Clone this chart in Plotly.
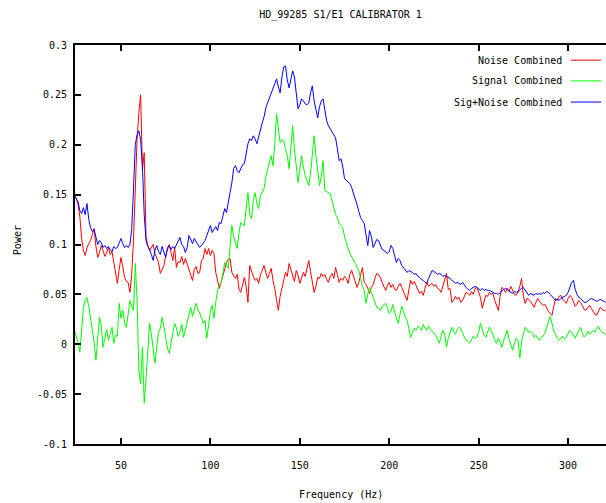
import plotly.graph_objects as go

# Frequency axis (Hz), 1 Hz steps
freq = list(range(24, 322))

noise = [
    0.150, 0.146, 0.140, 0.128, 0.106, 0.094, 0.089, 0.097, 0.101, 0.104,
    0.110, 0.116, 0.098, 0.087, 0.092, 0.099, 0.094, 0.088, 0.092, 0.097,
    0.090, 0.093, 0.082, 0.072, 0.061, 0.075, 0.087, 0.078, 0.067, 0.063,
    0.062, 0.052, 0.070, 0.104, 0.164, 0.205, 0.232, 0.250, 0.175, 0.192,
    0.108, 0.099, 0.094, 0.097, 0.100, 0.091, 0.087, 0.082, 0.071, 0.076,
    0.079, 0.089, 0.094, 0.100, 0.092, 0.084, 0.097, 0.077, 0.083, 0.082,
    0.088, 0.080, 0.086, 0.081, 0.074, 0.070, 0.064, 0.075, 0.078, 0.071,
    0.072, 0.084, 0.086, 0.096, 0.090, 0.096, 0.089, 0.094, 0.091, 0.072,
    0.064, 0.056, 0.062, 0.069, 0.077, 0.082, 0.085, 0.086, 0.072, 0.069,
    0.066, 0.070, 0.055, 0.052, 0.061, 0.067, 0.058, 0.042, 0.079, 0.073,
    0.068, 0.064, 0.066, 0.061, 0.070, 0.074, 0.079, 0.072, 0.066, 0.071,
    0.076, 0.064, 0.056, 0.044, 0.034, 0.048, 0.056, 0.065, 0.072, 0.068,
    0.081, 0.075, 0.068, 0.063, 0.074, 0.069, 0.061, 0.066, 0.072, 0.068,
    0.078, 0.084, 0.073, 0.061, 0.052, 0.058, 0.067, 0.066, 0.071, 0.068,
    0.070, 0.065, 0.062, 0.068, 0.071, 0.066, 0.077, 0.070, 0.062, 0.066,
    0.064, 0.068, 0.066, 0.061, 0.070, 0.074, 0.068, 0.063, 0.057, 0.062,
    0.071, 0.077, 0.062, 0.060, 0.056, 0.051, 0.057, 0.060, 0.066, 0.071,
    0.070, 0.067, 0.062, 0.058, 0.054, 0.059, 0.062, 0.057, 0.060, 0.055,
    0.054, 0.058, 0.061, 0.057, 0.052, 0.048, 0.044, 0.055, 0.064, 0.060,
    0.063, 0.059, 0.054, 0.051, 0.053, 0.049, 0.056, 0.062, 0.058, 0.060,
    0.061, 0.058, 0.060, 0.056, 0.055, 0.052, 0.059, 0.066, 0.071, 0.055,
    0.056, 0.042, 0.044, 0.048, 0.045, 0.047, 0.042, 0.044, 0.049, 0.052,
    0.051, 0.049, 0.053, 0.050, 0.056, 0.057, 0.052, 0.047, 0.036, 0.042,
    0.049, 0.048, 0.052, 0.050, 0.051, 0.044, 0.039, 0.034, 0.048, 0.057,
    0.055, 0.052, 0.056, 0.053, 0.058, 0.054, 0.050, 0.049, 0.052, 0.058,
    0.066, 0.048, 0.041, 0.046, 0.045, 0.043, 0.040, 0.037, 0.042, 0.046,
    0.043, 0.041, 0.039, 0.040, 0.036, 0.033, 0.031, 0.029, 0.038, 0.046,
    0.044, 0.048, 0.049, 0.045, 0.043, 0.041, 0.046, 0.049, 0.047, 0.042,
    0.038, 0.040, 0.044, 0.042, 0.038, 0.035, 0.034, 0.037, 0.039, 0.036,
    0.033, 0.030, 0.029, 0.034, 0.037, 0.035, 0.034, 0.034,
]

signal = [
    0.014, 0.008, 0.002, -0.008, 0.012, 0.036, 0.045, 0.047, 0.038, 0.026,
    0.015, 0.002, -0.016, 0.010, 0.027, 0.018, -0.003, 0.006, 0.015, 0.004,
    0.012, 0.017, 0.001, 0.009, 0.008, 0.041, 0.026, 0.034, 0.022, 0.017,
    0.030, 0.044, 0.038, 0.034, 0.081, 0.045, -0.026, -0.040, -0.003, -0.059,
    -0.034, -0.010, 0.021, 0.010, -0.008, -0.019, -0.002, 0.012, 0.016, 0.027,
    0.018, 0.006, -0.004, -0.009, 0.002, 0.014, 0.021, 0.016, 0.008, 0.012,
    0.020, 0.007, 0.015, 0.022, 0.030, 0.037, 0.028, 0.034, 0.041, 0.035,
    0.031, 0.027, 0.021, 0.024, 0.006, 0.018, 0.033, 0.039, 0.026, 0.042,
    0.054, 0.059, 0.062, 0.071, 0.082, 0.079, 0.076, 0.098, 0.119, 0.108,
    0.102, 0.096, 0.112, 0.122, 0.120, 0.119, 0.136, 0.152, 0.130, 0.126,
    0.144, 0.152, 0.141, 0.136, 0.149, 0.152, 0.156, 0.168, 0.176, 0.184,
    0.189, 0.179, 0.200, 0.231, 0.215, 0.202, 0.205, 0.204, 0.196, 0.189,
    0.176, 0.198, 0.219, 0.196, 0.179, 0.162, 0.175, 0.189, 0.178, 0.169,
    0.164, 0.159, 0.171, 0.192, 0.209, 0.189, 0.170, 0.159, 0.168, 0.184,
    0.154, 0.153, 0.152, 0.151, 0.144, 0.137, 0.130, 0.127, 0.121, 0.119,
    0.117, 0.108, 0.101, 0.096, 0.091, 0.088, 0.084, 0.081, 0.077, 0.074,
    0.066, 0.058, 0.054, 0.041, 0.050, 0.057, 0.052, 0.047, 0.041, 0.037,
    0.036, 0.034, 0.038, 0.040, 0.041, 0.036, 0.031, 0.033, 0.040, 0.032,
    0.027, 0.021, 0.030, 0.038, 0.033, 0.027, 0.024, 0.015, 0.007, 0.012,
    0.016, 0.014, 0.018, 0.017, 0.014, 0.020, 0.016, 0.014, 0.018, 0.015,
    0.013, 0.011, 0.009, 0.005, 0.001, 0.008, 0.014, 0.010, -0.003, 0.006,
    0.012, 0.017, 0.013, 0.010, 0.015, 0.017, 0.016, 0.011, 0.007, 0.004,
    0.003, 0.001, 0.004, 0.008, 0.006, 0.007, 0.012, 0.021, 0.015, 0.009,
    0.007, 0.012, 0.017, 0.014, 0.008, 0.004, 0.001, 0.006, 0.002, -0.003,
    0.004, 0.010, 0.014, 0.005, -0.002, -0.006, 0.001, 0.006, 0.004, -0.014,
    0.003, 0.010, 0.017, 0.015, 0.012, 0.013, 0.011, 0.007, 0.009, 0.006,
    0.004, 0.007, 0.008, 0.011, 0.016, 0.022, 0.028, 0.021, 0.013, 0.010,
    0.006, 0.004, 0.006, 0.008, 0.005, 0.007, 0.011, 0.014, 0.012, 0.009,
    0.006, 0.010, 0.014, 0.017, 0.011, 0.007, 0.009, 0.013, 0.010, 0.012,
    0.014, 0.012, 0.016, 0.018, 0.014, 0.012, 0.011, 0.010,
]

sig_noise = [
    0.149, 0.146, 0.143, 0.134, 0.131, 0.137, 0.130, 0.141, 0.125, 0.117,
    0.113, 0.115, 0.108, 0.100, 0.104, 0.102, 0.097, 0.099, 0.096, 0.098,
    0.095, 0.093, 0.098, 0.096, 0.097, 0.101, 0.106, 0.101, 0.097, 0.099,
    0.097, 0.100, 0.115, 0.155, 0.200, 0.210, 0.214, 0.205, 0.178, 0.130,
    0.104, 0.098, 0.095, 0.090, 0.084, 0.094, 0.099, 0.093, 0.090, 0.098,
    0.092, 0.087, 0.097, 0.099, 0.095, 0.098, 0.096, 0.100, 0.104, 0.107,
    0.100, 0.098, 0.092, 0.097, 0.109, 0.104, 0.101, 0.106, 0.103, 0.099,
    0.097, 0.099, 0.101, 0.104, 0.109, 0.114, 0.119, 0.112, 0.115, 0.118,
    0.114, 0.122, 0.121, 0.128, 0.136, 0.132, 0.144, 0.152, 0.162, 0.176,
    0.179, 0.174, 0.172, 0.176, 0.180, 0.181, 0.192, 0.201, 0.206, 0.204,
    0.209, 0.206, 0.201, 0.209, 0.214, 0.222, 0.228, 0.237, 0.242, 0.247,
    0.252, 0.256, 0.262, 0.266, 0.258, 0.252, 0.268, 0.278, 0.279, 0.265,
    0.257, 0.266, 0.274, 0.268, 0.250, 0.236, 0.240, 0.246, 0.244, 0.241,
    0.240, 0.242, 0.252, 0.259, 0.244, 0.236, 0.227, 0.238, 0.244, 0.246,
    0.236, 0.224, 0.219, 0.216, 0.214, 0.210, 0.207, 0.196, 0.184, 0.186,
    0.178, 0.166, 0.164, 0.163, 0.161, 0.157, 0.152, 0.147, 0.140, 0.133,
    0.127, 0.124, 0.121, 0.110, 0.099, 0.114, 0.108, 0.097, 0.102, 0.105,
    0.104, 0.099, 0.095, 0.094, 0.092, 0.091, 0.093, 0.099, 0.096, 0.088,
    0.082, 0.086, 0.084, 0.079, 0.077, 0.074, 0.072, 0.074, 0.073, 0.072,
    0.070, 0.071, 0.068, 0.067, 0.065, 0.064, 0.062, 0.061, 0.066, 0.071,
    0.074, 0.073, 0.071, 0.070, 0.071, 0.070, 0.068, 0.069, 0.068, 0.067,
    0.066, 0.064, 0.063, 0.061, 0.062, 0.061, 0.060, 0.062, 0.059, 0.057,
    0.055, 0.054, 0.056, 0.057, 0.058, 0.057, 0.055, 0.054, 0.056, 0.054,
    0.055, 0.054, 0.054, 0.053, 0.052, 0.051, 0.051, 0.050, 0.052, 0.054,
    0.055, 0.056, 0.055, 0.053, 0.052, 0.051, 0.053, 0.052, 0.053, 0.055,
    0.056, 0.057, 0.054, 0.051, 0.049, 0.051, 0.050, 0.049, 0.051, 0.050,
    0.051, 0.050, 0.052, 0.051, 0.053, 0.052, 0.050, 0.048, 0.045, 0.044,
    0.045, 0.044, 0.046, 0.047, 0.048, 0.049, 0.052, 0.057, 0.062, 0.064,
    0.055, 0.050, 0.047, 0.046, 0.044, 0.042, 0.042, 0.043, 0.045, 0.046,
    0.045, 0.044, 0.043, 0.044, 0.045, 0.044, 0.043, 0.042,
]

series_names = ["Noise Combined", "Signal Combined", "Sig+Noise Combined"]
series_colors = ["#ff0000", "#00ff00", "#0000ff"]

x_ticks = [50, 100, 150, 200, 250, 300]
y_ticks = [-0.1, -0.05, 0, 0.05, 0.1, 0.15, 0.2, 0.25, 0.3]
y_tick_labels = ["-0.1", "-0.05", "0", "0.05", "0.1", "0.15", "0.2", "0.25", "0.3"]

FONT = "DejaVu Sans Mono"

fig = go.Figure()
for name, vals, col in zip(series_names, [noise, signal, sig_noise], series_colors):
    fig.add_trace(go.Scatter(x=freq, y=vals, mode="lines", name=name,
                             line=dict(color=col, width=1), showlegend=False))

# gnuplot-style legend: right-aligned text with sample line to the right
leg_y = [0.962, 0.910, 0.857]
for name, col, yy in zip(series_names, series_colors, leg_y):
    fig.add_annotation(xref="paper", yref="paper", x=0.921, y=yy, text=name,
                       showarrow=False, xanchor="right", yanchor="middle",
                       font=dict(family=FONT, size=10, color="black"))
    fig.add_shape(type="line", xref="paper", yref="paper",
                  x0=0.934, x1=0.991, y0=yy, y1=yy,
                  line=dict(color=col, width=1))

fig.add_annotation(xref="paper", yref="paper", x=0.5, y=-0.126,
                   text="Frequency (Hz)", showarrow=False,
                   xanchor="center", yanchor="middle",
                   font=dict(family=FONT, size=10, color="black"))
fig.add_annotation(xref="paper", yref="paper", x=-0.108, y=0.51,
                   text="Power", showarrow=False, textangle=-90,
                   xanchor="center", yanchor="middle",
                   font=dict(family=FONT, size=10, color="black"))

fig.update_layout(
    width=606, height=503,
    margin=dict(l=75, r=0, t=45, b=59),
    paper_bgcolor="white", plot_bgcolor="white",
    title=dict(text="HD_99285 S1/E1 CALIBRATOR 1", x=0.5, xref="paper",
               y=1 - 14 / 503, yanchor="middle",
               font=dict(family=FONT, size=10, color="black")),
    font=dict(family=FONT, size=10, color="black"),
)
fig.update_xaxes(range=[24.3, 321.2], tickvals=x_ticks, ticks="inside",
                 ticklen=6, tickwidth=2, tickcolor="black",
                 showline=True, linecolor="black", linewidth=2,
                 mirror="ticks", showgrid=False, zeroline=False,
                 ticklabelstandoff=11,
                 tickfont=dict(family=FONT, size=10, color="black"))
fig.update_yaxes(range=[-0.1, 0.3], tickvals=y_ticks, ticktext=y_tick_labels,
                 ticks="inside", ticklen=6, tickwidth=2, tickcolor="black",
                 showline=True, linecolor="black", linewidth=2,
                 mirror=False, showgrid=False, zeroline=False,
                 ticklabelstandoff=4,
                 tickfont=dict(family=FONT, size=10, color="black"))

fig.write_html("out.html")
